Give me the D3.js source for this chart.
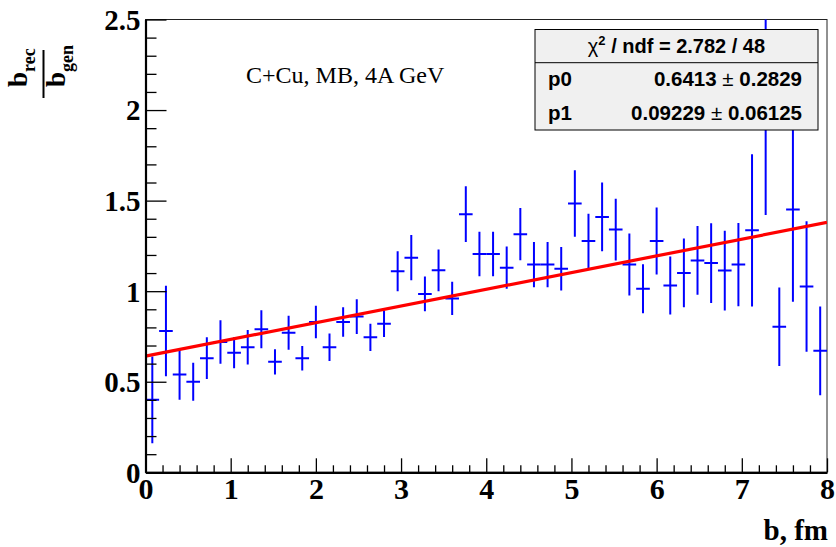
<!DOCTYPE html>
<html><head><meta charset="utf-8">
<script src="https://cdn.jsdelivr.net/npm/d3@7/dist/d3.min.js"></script>
<style>body{margin:0;background:#fff} svg{display:block}</style>
</head><body>
<svg id="c" width="836" height="547"></svg>
<script>
// ---- data ----
const binCenters = [0.08,0.24,0.40,0.56,0.72,0.88,1.04,1.20,1.36,1.52,
                    1.68,1.84,2.00,2.16,2.32,2.48,2.64,2.80,2.96,3.12,
                    3.28,3.44,3.60,3.76,3.92,4.08,4.24,4.40,4.56,4.72,
                    4.88,5.04,5.20,5.36,5.52,5.68,5.84,6.00,6.16,6.32,
                    6.48,6.64,6.80,6.96,7.12,7.28,7.44,7.60,7.76,7.92];
const ratioValues = [0.40,0.78,0.54,0.50,0.63,0.72,0.66,0.69,0.79,0.61,
                     0.77,0.63,0.83,0.69,0.83,0.86,0.745,0.82,1.11,1.185,
                     0.985,1.115,0.96,1.425,1.205,1.205,1.13,1.315,1.147,1.147,
                     1.124,1.484,1.277,1.41,1.34,1.147,1.013,1.277,1.031,1.101,
                     1.17,1.155,1.114,1.147,1.336,2.10,0.804,1.451,1.026,0.671];
const ratioErrors = [0.24,0.25,0.14,0.105,0.115,0.12,0.086,0.095,0.105,0.07,
                     0.094,0.068,0.09,0.076,0.081,0.096,0.075,0.073,0.111,0.125,
                     0.096,0.115,0.092,0.154,0.123,0.123,0.117,0.144,0.125,0.125,
                     0.12,0.183,0.15,0.19,0.17,0.171,0.135,0.185,0.16,0.19,
                     0.19,0.22,0.22,0.23,0.42,0.68,0.217,0.51,0.36,0.245];
const binHalfWidth = 0.08;
const fitParams = {p0: 0.6413, p1: 0.09229};
const fitRange = [0, 8];
const xTickLabels = [0,1,2,3,4,5,6,7,8];
const yTickLabels = [0,0.5,1,1.5,2,2.5];
const statsRows = [["p0","0.6413","0.2829"],["p1","0.09229","0.06125"]];
const annotationText = "C+Cu, MB, 4A GeV";
const xTitle = "b, fm";

// ---- layout ----
const svg = d3.select("#c");
const m = {left:145.5, right:827, top:19.5, bottom:472.3};
const x = d3.scaleLinear().domain([0,8]).range([m.left,m.right]);
const y = d3.scaleLinear().domain([0,2.5]).range([m.bottom,m.top]);
const serif = "'Liberation Serif','Times New Roman',serif";
const sans = "'Liberation Sans',Arial,sans-serif";

svg.append("defs").append("clipPath").attr("id","clip")
  .append("rect").attr("x",m.left).attr("y",m.top)
  .attr("width",m.right-m.left).attr("height",m.bottom-m.top);

// frame
svg.append("rect").attr("x",m.left).attr("y",m.top)
  .attr("width",m.right-m.left).attr("height",m.bottom-m.top)
  .attr("fill","none").attr("stroke","#222").attr("stroke-width",1);

// data
const pts = binCenters.map((c,i)=>({c, v:ratioValues[i], e:ratioErrors[i]}));
const gData = svg.append("g").attr("clip-path","url(#clip)");
const eb = gData.selectAll("g.eb").data(pts).join("g").attr("class","eb");
eb.append("line")
  .attr("x1",d=>x(d.c)).attr("x2",d=>x(d.c))
  .attr("y1",d=>y(d.v-d.e)).attr("y2",d=>y(d.v+d.e))
  .attr("stroke","#0000ff").attr("stroke-width",2);
eb.append("line")
  .attr("x1",d=>x(d.c-binHalfWidth)).attr("x2",d=>x(d.c+binHalfWidth))
  .attr("y1",d=>y(d.v)).attr("y2",d=>y(d.v))
  .attr("stroke","#0000ff").attr("stroke-width",2);

// fit line
gData.append("path")
  .datum(fitRange.map(b=>[b, fitParams.p0 + fitParams.p1*b]))
  .attr("d", d3.line().x(d=>x(d[0])).y(d=>y(d[1])))
  .attr("stroke","#ff0000").attr("stroke-width",3.2).attr("fill","none");

// axes
const xMinor = d3.range(0, 8.0001, 0.2).filter(v=>Math.abs(v-Math.round(v))>1e-6);
const yMinor = d3.range(0, 2.5001, 0.1).filter(v=>Math.abs(v*2-Math.round(v*2))>1e-6);

svg.append("g").attr("transform",`translate(0,${m.bottom})`)
  .call(d3.axisBottom(x).tickValues(xMinor).tickSizeInner(-7).tickSizeOuter(0).tickFormat(""))
  .call(g=>g.select(".domain").remove());
const gx = svg.append("g").attr("transform",`translate(0,${m.bottom})`)
  .call(d3.axisBottom(x).tickValues(xTickLabels).tickSizeInner(-14).tickSizeOuter(0)
        .tickPadding(4).tickFormat(d3.format("~g")));
gx.select(".domain").attr("stroke-width",2.2);

svg.append("g").attr("transform",`translate(${m.left},0)`)
  .call(d3.axisLeft(y).tickValues(yMinor).tickSizeInner(-11).tickSizeOuter(0).tickFormat(""))
  .call(g=>g.select(".domain").remove());
const gy = svg.append("g").attr("transform",`translate(${m.left},0)`)
  .call(d3.axisLeft(y).tickValues(yTickLabels).tickSizeInner(-21).tickSizeOuter(0)
        .tickPadding(5).tickFormat(d3.format("~g")));
gy.select(".domain").attr("stroke-width",2.2);

svg.selectAll(".tick line").attr("stroke","#000").attr("stroke-width",1.3);
gx.selectAll(".tick text").attr("font-family",serif).attr("font-weight","bold")
  .attr("font-size",30).attr("fill","#000").attr("dy","0.74em");
gy.selectAll(".tick text").attr("font-family",serif).attr("font-weight","bold")
  .attr("font-size",29).attr("fill","#000").attr("dy","0.34em");

// axis titles
svg.append("text").attr("x",828).attr("y",540).attr("text-anchor","end")
  .attr("font-family",serif).attr("font-weight","bold").attr("font-size",29)
  .text(xTitle);

const yt = svg.append("g").attr("transform","translate(43.5,75) rotate(-90)")
  .attr("font-family",serif).attr("font-weight","bold");
const num = yt.append("text").attr("x",-12).attr("y",-17).attr("font-size",27);
num.append("tspan").text("b");
num.append("tspan").attr("font-size",18).attr("dy",8).text("rec");
const den = yt.append("text").attr("x",-12).attr("y",21.5).attr("font-size",27);
den.append("tspan").text("b");
den.append("tspan").attr("font-size",18).attr("dy",8).text("gen");
yt.append("line").attr("x1",-23).attr("x2",25).attr("y1",0).attr("y2",0)
  .attr("stroke","#000").attr("stroke-width",2);

// annotation
svg.append("text").attr("x",246).attr("y",83.3)
  .attr("font-family",serif).attr("font-size",24).attr("fill","#000")
  .text(annotationText);

// stats box
const sb = {x:535, y:29.5, w:283, h:100.5, sep:62.7};
svg.append("rect").attr("x",sb.x).attr("y",sb.y).attr("width",sb.w).attr("height",sb.h)
  .attr("fill","#f0f0f0").attr("stroke","#000").attr("stroke-width",1);
svg.append("line").attr("x1",sb.x).attr("x2",sb.x+sb.w).attr("y1",sb.sep).attr("y2",sb.sep)
  .attr("stroke","#000").attr("stroke-width",1);
const hdr = svg.append("text").attr("x",sb.x+sb.w/2).attr("y",53).attr("text-anchor","middle")
  .attr("font-family",sans).attr("font-weight","bold").attr("font-size",20);
hdr.append("tspan").attr("font-weight","normal").text("χ");
hdr.append("tspan").attr("font-size",13).attr("dy",-8).text("2");
hdr.append("tspan").attr("dy",8).text(" / ndf = 2.782 / 48");
statsRows.forEach((r,i)=>{
  const by = 85.5 + i*34.5;
  svg.append("text").attr("x",548).attr("y",by)
    .attr("font-family",sans).attr("font-weight","bold").attr("font-size",20.5).text(r[0]);
  const t = svg.append("text").attr("x",802).attr("y",by).attr("text-anchor","end")
    .attr("font-family",sans).attr("font-weight","bold").attr("font-size",20.5);
  t.append("tspan").text(r[1]+" ");
  t.append("tspan").attr("font-weight","normal").text("±");
  t.append("tspan").text(" "+r[2]);
});
</script>
</body></html>
